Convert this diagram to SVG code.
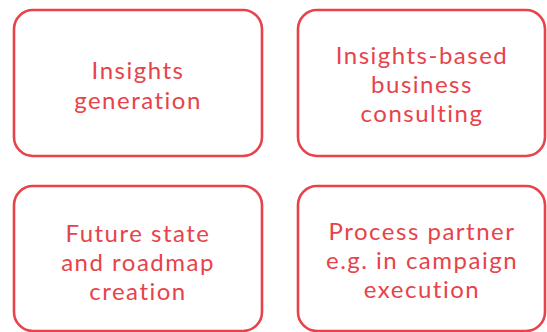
<svg xmlns="http://www.w3.org/2000/svg" width="547" height="332" viewBox="0 0 547 332">
  <style>
    .box { fill: #ffffff; stroke: #E8424A; stroke-width: 2.6; }
    .label { fill: #E8424A; font-family: "Lato", "Liberation Sans", sans-serif; font-size: 24px; font-weight: 400; letter-spacing: 1.5px; text-anchor: middle; }
  </style>
  <rect width="547" height="332" fill="#ffffff"/>

  <g id="insights-generation">
    <rect class="box" x="14" y="10" width="248" height="146" rx="19"/>
    <text class="label" x="138" y="78.5">Insights</text>
    <text class="label" x="138" y="108.5">generation</text>
  </g>

  <g id="insights-consulting">
    <rect class="box" x="298" y="10" width="247" height="146" rx="19"/>
    <text class="label" x="422" y="63.5">Insights-based</text>
    <text class="label" x="422" y="92.7">business</text>
    <text class="label" x="422" y="121.7">consulting</text>
  </g>

  <g id="future-state">
    <rect class="box" x="14" y="186" width="248" height="145" rx="19"/>
    <text class="label" x="138" y="241.5">Future state</text>
    <text class="label" x="138" y="270.5">and roadmap</text>
    <text class="label" x="138" y="299.5">creation</text>
  </g>

  <g id="process-partner">
    <rect class="box" x="298" y="186" width="247" height="145" rx="19"/>
    <text class="label" x="422" y="240">Process partner</text>
    <text class="label" x="422" y="269.3">e.g. in campaign</text>
    <text class="label" x="422" y="298.3">execution</text>
  </g>

  <g id="connectors"/>
</svg>
